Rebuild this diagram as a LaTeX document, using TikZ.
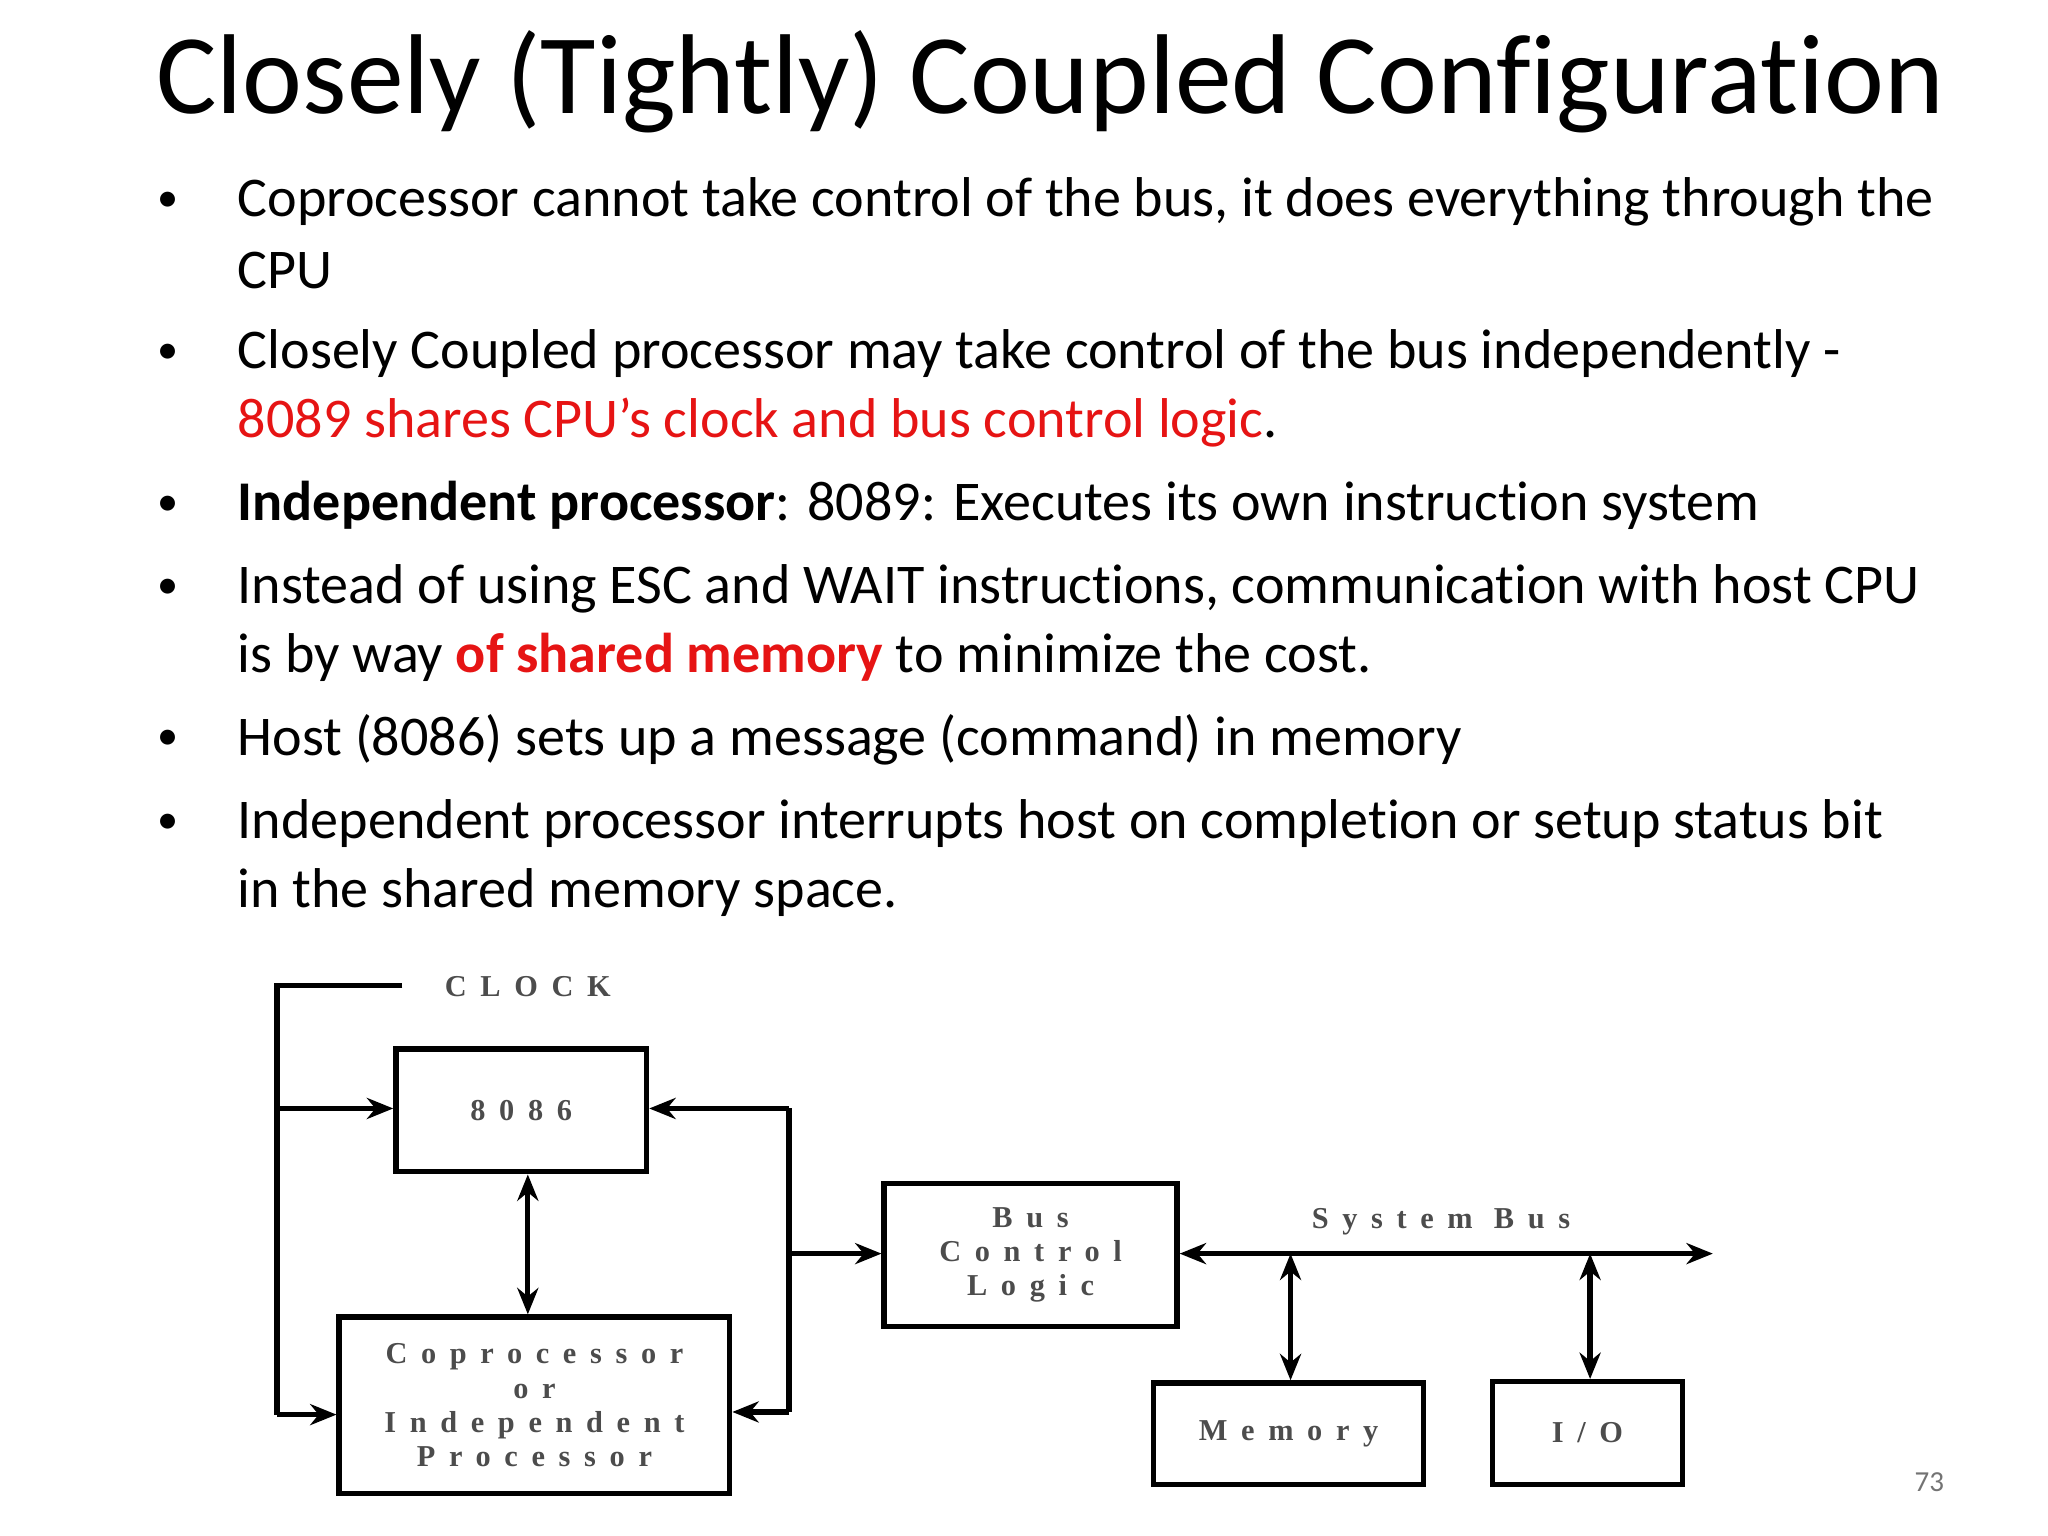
\documentclass[tikz,border=0pt]{standalone}
\usepackage{fontspec}
\setmainfont{Carlito}[Ligatures=NoCommon]
\newfontfamily\diag{Liberation Serif}[LetterSpace=45]
\usetikzlibrary{arrows.meta}
\definecolor{myred}{RGB}{230,20,20}
\begin{document}
\begin{tikzpicture}[x=1pt,y=-1pt,
  txt/.style={anchor=west,inner sep=0pt,font=\fontsize{42.5}{45}\selectfont},
  bul/.style={anchor=center,inner sep=0pt,font=\fontsize{32}{40}\selectfont},
  dfont/.style={font=\diag\fontsize{23}{26}\selectfont\bfseries,text=black!70},
  box/.style={draw,line width=4pt,inner sep=0pt,dfont,align=center},
  ln/.style={line width=4pt},
  arr/.style={ln,-{Stealth[length=20pt,width=16pt]}},
  darr/.style={ln,{Stealth[length=20pt,width=16pt]}-{Stealth[length=20pt,width=16pt]}}]
\useasboundingbox (0,0) rectangle (1552,1164);
\node[inner sep=0pt,font=\fontsize{86}{90}\selectfont] (title) at (796,62) {Closely (Tightly) Coupled Configuration};
\foreach \y/\n in {153/b1,268/b2,383/b3,446/b4,561/b5,624/b6}
  \node[bul] (\n) at (127,\y) {•};
\node[txt] (l1) at (180,153) {Coprocessor cannot take control of the bus, it does everything through the};
\node[txt] (l2) at (180,205) {CPU};
\node[txt] (l3) at (180,268) {Closely Coupled processor may take control of the bus independently -};
\node[txt] (l4) at (180,320) {\textcolor{myred}{8089 shares CPU’s clock and bus control logic}.};
\node[txt] (l5) at (180,383) {\textbf{Independent processor}: 8089: Executes its own instruction system};
\node[txt] (l6) at (180,446) {Instead of using ESC and WAIT instructions, communication with host CPU};
\node[txt] (l7) at (180,498) {is by way \textcolor{myred}{\textbf{of shared memory}} to minimize the cost.};
\node[txt] (l8) at (180,561) {Host (8086) sets up a message (command) in memory};
\node[txt] (l9) at (180,624) {Independent processor interrupts host on completion or setup status bit};
\node[txt] (l10) at (180,676) {in the shared memory space.};
% diagram
\node[box,minimum width=190pt,minimum height=93pt] (cpu) at (395,841.5) {8086};
\node[box,minimum width=296pt,minimum height=134pt] (cop) at (405,1065) {Coprocessor\\or\\Independent\\Processor};
\node[box,minimum width=222pt,minimum height=108pt] (bcl) at (781,951) {Bus\\Control\\Logic};
\node[box,minimum width=205pt,minimum height=77pt] (mem) at (976.5,1086.5) {Memory};
\node[box,minimum width=144pt,minimum height=78pt] (io) at (1203,1086) {I/O};
\node[inner sep=0pt,dfont] (clk) at (400,748) {CLOCK};
\node[inner sep=0pt,dfont] (sb) at (1092,926) {System Bus};
\node[inner sep=0pt,font=\fontsize{22}{24}\selectfont,text=black!55] (pg) at (1462,1123) {73};
\coordinate (c0) at (305,747);
\coordinate (c1) at (210,747);
\coordinate (c2) at (210,840);
\coordinate (c3) at (210,1072);
\coordinate (r0) at (598,840);
\coordinate (r1) at (598,950);
\coordinate (r2) at (598,1070);
\coordinate (be) at (1298,950);
\coordinate (m0) at (978,950);
\coordinate (i0) at (1205,950);
\draw[ln] (c0) -- (c1) -- (c3);
\draw[arr] (c3) -- (c3 -| cop.west);
\draw[arr] (c2) -- (c2 -| cpu.west);
\draw[darr] (cpu.south -| 400,0) -- (cop.north -| 400,0);
\draw[ln] (r0) -- (r2);
\draw[arr] (r0) -- (r0 -| cpu.east);
\draw[arr] (r2) -- (r2 -| cop.east);
\draw[arr] (r1) -- (r1 -| bcl.west);
\draw[darr] (r1 -| bcl.east) -- (be);
\draw[darr] (m0) -- (m0 |- mem.north);
\draw[darr] (i0) -- (i0 |- io.north);
\end{tikzpicture}
\end{document}
